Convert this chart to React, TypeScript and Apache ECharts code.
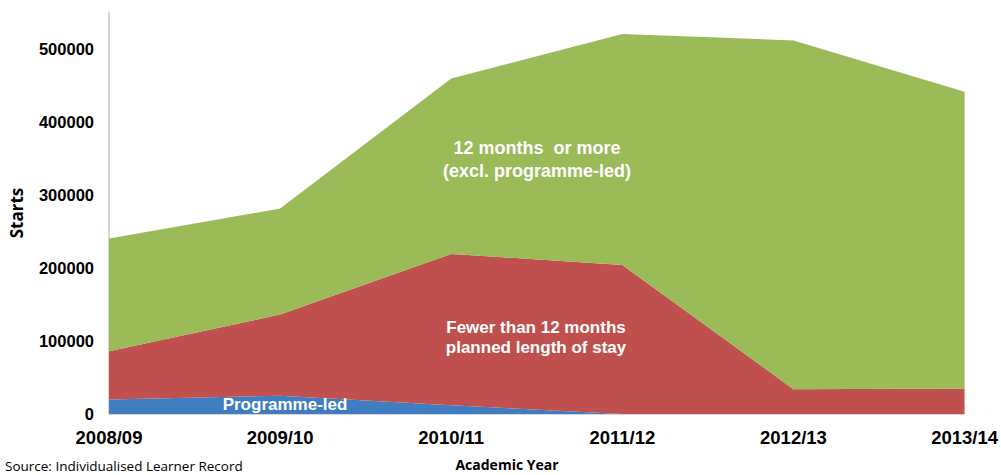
import React, { useEffect, useRef } from "react";
import * as echarts from "echarts";

const categories = ["2008/09", "2009/10", "2010/11", "2011/12", "2012/13", "2013/14"];
const programmeLed = [20000, 25000, 12000, 0, 0, 0];
const fewerThan12 = [66000, 111000, 207000, 204000, 34000, 35000];
const twelveOrMore = [154000, 145000, 240000, 316000, 477000, 406000];

export default function App() {
  const ref = useRef<HTMLDivElement>(null);
  useEffect(() => {
    if (!ref.current) return;
    const chart = echarts.init(ref.current, null, { renderer: "svg" });
    const white = (size: number) => ({ fill: "#ffffff", font: `bold ${size}px Arial, 'Liberation Sans', sans-serif`, textAlign: "center", textVerticalAlign: "middle" });
    chart.setOption({
      animation: false,
      grid: { left: 106, right: 35, top: 12, bottom: 61 },
      xAxis: {
        type: "category",
        data: categories,
        boundaryGap: false,
        axisLine: { show: true, lineStyle: { color: "#d9d9d9", width: 1 } },
        axisTick: { show: false },
        axisLabel: { color: "#000", fontWeight: "bold", fontSize: 18.5, fontFamily: "Arial, 'Liberation Sans', sans-serif", margin: 14 },
      },
      yAxis: {
        type: "value",
        min: 0,
        max: 550000,
        interval: 100000,
        name: "Starts",
        nameLocation: "middle",
        nameGap: 84,
        nameTextStyle: { color: "#000", fontWeight: "bold", fontSize: 17, fontFamily: "'Open Sans', sans-serif" },
        axisLine: { show: true, lineStyle: { color: "#c8c8c8", width: 1.5 } },
        axisTick: { show: false },
        splitLine: { show: false },
        axisLabel: {
          color: "#000", fontWeight: "bold", fontSize: 16.5, fontFamily: "Arial, 'Liberation Sans', sans-serif", margin: 15,
          formatter: (v: number) => (v > 500000 ? "" : String(v)),
        },
      },
      series: [
        { name: "Programme-led", type: "line", stack: "s", data: programmeLed, symbol: "none", lineStyle: { width: 0 }, areaStyle: { color: "#3f7cc0", opacity: 1 } },
        { name: "Fewer than 12 months", type: "line", stack: "s", data: fewerThan12, symbol: "none", lineStyle: { width: 0 }, areaStyle: { color: "#c0504d", opacity: 1 } },
        { name: "12 months or more", type: "line", stack: "s", data: twelveOrMore, symbol: "none", lineStyle: { width: 0 }, areaStyle: { color: "#9bbb59", opacity: 1 } },
      ],
      graphic: [
        { type: "text", z: 100, x: 537, y: 148, style: { ...white(18), text: "12 months  or more" } },
        { type: "text", z: 100, x: 537, y: 171, style: { ...white(18), text: "(excl. programme-led)" } },
        { type: "text", z: 100, x: 536, y: 327, style: { ...white(17), text: "Fewer than 12 months" } },
        { type: "text", z: 100, x: 536, y: 347, style: { ...white(17), text: "planned length of stay" } },
        { type: "text", z: 100, x: 285, y: 404, style: { ...white(17), text: "Programme-led" } },
        { type: "text", z: 100, x: 507, y: 464, style: { fill: "#000", font: "bold 14px 'Open Sans', sans-serif", textAlign: "center", textVerticalAlign: "middle", text: "Academic Year" } },
        { type: "text", z: 100, x: 5, y: 466, style: { fill: "#000", font: "13.5px 'Open Sans', sans-serif", textAlign: "left", textVerticalAlign: "middle", text: "Source: Individualised Learner Record" } },
      ],
    });
    return () => chart.dispose();
  }, []);
  return <div ref={ref} style={{ width: 1001, height: 475, position: "absolute", left: 0, top: 0 }} />;
}
